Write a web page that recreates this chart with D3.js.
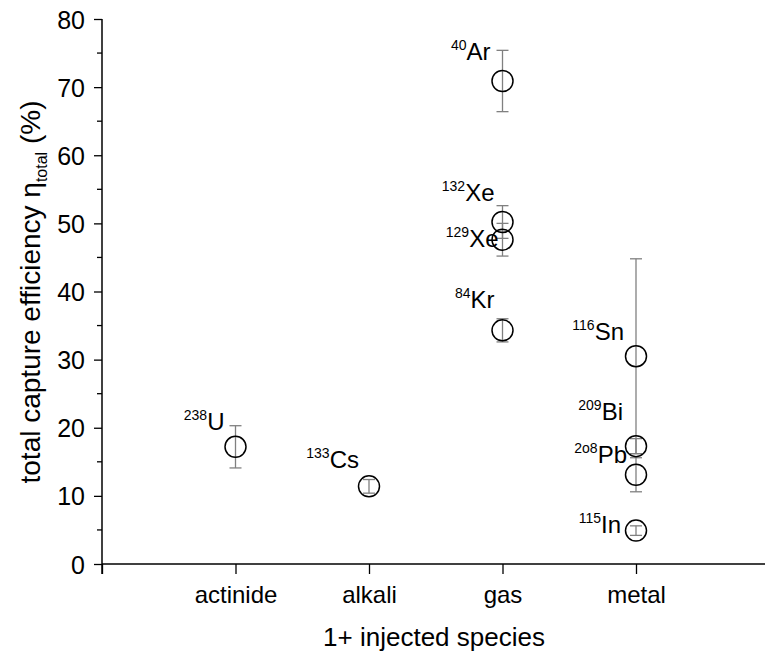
<!DOCTYPE html>
<html>
<head>
<meta charset="utf-8">
<script src="https://cdn.jsdelivr.net/npm/d3@7"></script>
<style>
  body { margin: 0; background: #fff; }
  text { font-family: Arial, "Liberation Sans", sans-serif; fill: #000; }
</style>
</head>
<body>
<svg id="chart" width="765" height="655"></svg>
<script>
// categories on the x axis
var categories = ["actinide", "alkali", "gas", "metal"];

// each measured species
var species  = ["U", "Cs", "Ar", "Xe", "Xe", "Kr", "Sn", "Bi", "Pb", "In"];
var massNums = ["238", "133", "40", "132", "129", "84", "116", "209", "2o8", "115"];
var speciesCat = ["actinide", "alkali", "gas", "gas", "gas", "gas", "metal", "metal", "metal", "metal"];
var efficiency = [17.2, 11.4, 70.9, 50.2, 47.6, 34.3, 30.5, 17.3, 13.1, 4.9];
var errors     = [3.1, 1.0, 4.5, 2.4, 2.4, 1.7, 14.3, 1.1, 2.5, 0.7];

// where the label sits (value units), and how far left of the point it ends
var labelY  = [19.7, 14.1, 74.0, 53.3, 46.5, 37.6, 32.9, 21.1, 14.8, 4.55];
var labelDx = [11, 10, 12, 8, 4, 8, 12, 13, 9, 15];

var yTicks = [0, 10, 20, 30, 40, 50, 60, 70, 80];

var svg = d3.select("#chart");

var x = d3.scaleLinear().domain([0, 5]).range([102, 769.5]);
var y = d3.scaleLinear().domain([0, 80]).range([564, 19]);

function catX(c) { return x(categories.indexOf(c) + 1); }

// y axis
var yAxis = d3.axisLeft(y).tickValues(yTicks).tickSize(8).tickSizeOuter(0).tickPadding(9);
var gy = svg.append("g").attr("transform", "translate(102,0)").call(yAxis);
gy.select(".domain").remove();
gy.selectAll("text").style("font-size", "25px").attr("dy", "0.36em");
gy.selectAll("line").attr("stroke-width", 1.3);

// minor y ticks
svg.append("g").selectAll("line")
  .data(d3.range(5, 80, 10))
  .enter().append("line")
  .attr("x1", 97).attr("x2", 102)
  .attr("y1", function(d) { return y(d); })
  .attr("y2", function(d) { return y(d); })
  .attr("stroke", "#000").attr("stroke-width", 1.3);

svg.append("line")
  .attr("x1", 102).attr("x2", 102)
  .attr("y1", y(80)).attr("y2", 574)
  .attr("stroke", "#000").attr("stroke-width", 1.5);

// x axis
var xAxis = d3.axisBottom(x).tickValues([0, 1, 2, 3, 4])
  .tickFormat(function(d) { return d === 0 ? "" : categories[d - 1]; })
  .tickSize(10).tickSizeOuter(0).tickPadding(12);
var gx = svg.append("g").attr("transform", "translate(0,564)").call(xAxis);
gx.select(".domain").remove();
gx.selectAll("text").style("font-size", "24px");
gx.selectAll("line").attr("stroke-width", 1.3);

svg.append("line")
  .attr("x1", 102).attr("x2", 765)
  .attr("y1", 564).attr("y2", 564)
  .attr("stroke", "#000").attr("stroke-width", 1.5);

// axis titles
svg.append("text")
  .attr("x", 434).attr("y", 646)
  .attr("text-anchor", "middle")
  .style("font-size", "26px")
  .text("1+ injected species");

var yt = svg.append("text")
  .attr("transform", "translate(40,292) rotate(-90)")
  .attr("text-anchor", "middle")
  .style("font-size", "28px");
yt.append("tspan").text("total capture efficiency \u03b7");
yt.append("tspan").attr("dy", 7).style("font-size", "16px").text("total");
yt.append("tspan").attr("dy", -7).text(" (%)");

var idx = d3.range(species.length);

// error bars
var eb = svg.append("g").attr("stroke", "#808080").attr("stroke-width", 1.3);
idx.forEach(function(i) {
  var cx = catX(speciesCat[i]);
  var top = y(efficiency[i] + errors[i]), bot = y(efficiency[i] - errors[i]);
  eb.append("line").attr("x1", cx).attr("x2", cx).attr("y1", top).attr("y2", bot);
  eb.append("line").attr("x1", cx - 6).attr("x2", cx + 6).attr("y1", top).attr("y2", top);
  eb.append("line").attr("x1", cx - 6).attr("x2", cx + 6).attr("y1", bot).attr("y2", bot);
});

// points
svg.append("g").selectAll("circle")
  .data(idx)
  .enter().append("circle")
  .attr("cx", function(i) { return catX(speciesCat[i]); })
  .attr("cy", function(i) { return y(efficiency[i]); })
  .attr("r", 10.5)
  .attr("fill", "none")
  .attr("stroke", "#000")
  .attr("stroke-width", 1.5);

// labels
idx.forEach(function(i) {
  var t = svg.append("text")
    .attr("x", catX(speciesCat[i]) - labelDx[i])
    .attr("y", y(labelY[i]))
    .attr("text-anchor", "end")
    .style("font-size", "24px");
  t.append("tspan").attr("dy", -10).style("font-size", "14px").text(massNums[i]);
  t.append("tspan").attr("dy", 10).text(species[i]);
});
</script>
</body>
</html>
